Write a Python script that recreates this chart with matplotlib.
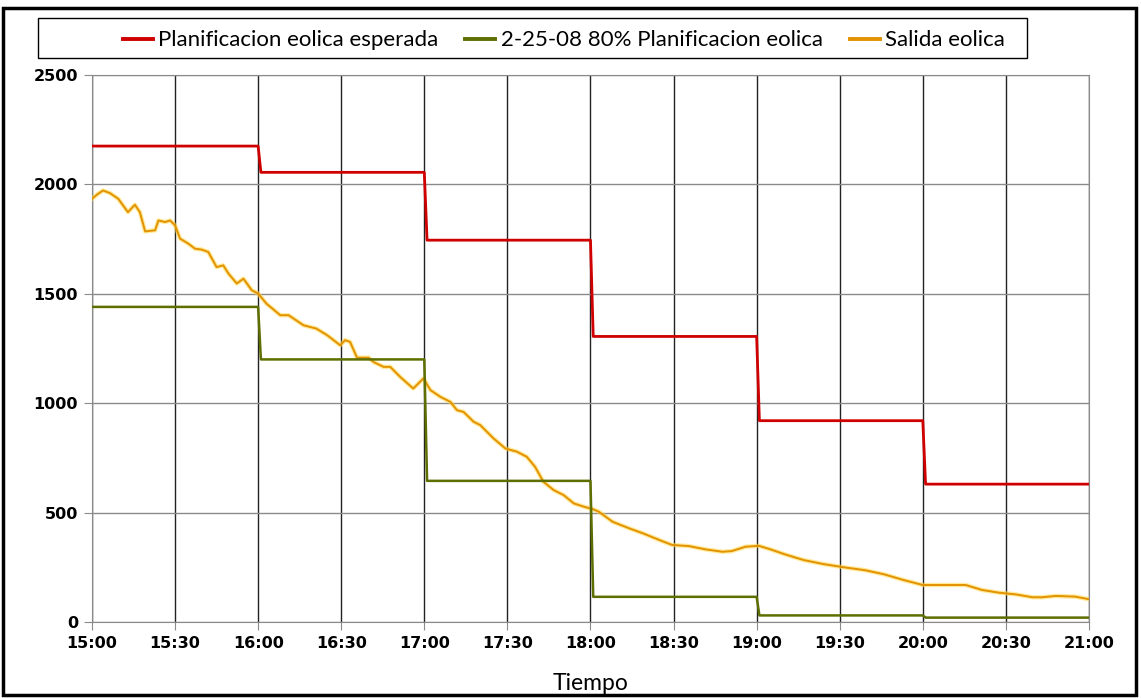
import numpy as np
import matplotlib
matplotlib.use("Agg")
import matplotlib.pyplot as plt
from matplotlib.patches import Rectangle

# --- datos (minutos desde las 15:00, MW) ---
inicio_bloques = [0, 60, 120, 180, 240, 300]
plan_esperada = [2175, 2055, 1745, 1305, 920, 630]
plan_80 = [1440, 1200, 645, 115, 30, 20]

salida_min = [0, 2, 4, 6.5, 9.5, 13, 15.5, 17.3, 19.2, 22.8, 24, 26.4, 28.2, 30,
              31.8, 34.8, 37.2, 39.6, 42, 45, 47.4, 49.3, 52.3, 54.7, 57.7, 60,
              63, 68, 71, 76.4, 81, 85, 89.6, 91.4, 93.2, 95.7, 99.9, 101.7,
              105.3, 107.7, 111.3, 116, 119.7, 122.2, 125.8, 129.4, 131.8, 134.2,
              137.8, 140.2, 145, 149.3, 153.5, 157, 160, 163, 166.7, 170.3, 174,
              177.6, 181, 183, 188, 194, 199, 205, 209.5, 215.5, 221.5, 227.6,
              231, 236, 240.8, 245, 250, 257, 264, 271.5, 279, 286, 293, 300,
              308, 315.5, 321.5, 327.5, 333.6, 339.6, 343, 348, 355, 360]
salida_mw = [1934, 1955, 1972, 1960, 1934, 1873, 1907, 1873, 1785, 1790, 1835,
             1828, 1835, 1813, 1752, 1729, 1706, 1702, 1691, 1622, 1630, 1592,
             1547, 1569, 1516, 1501, 1455, 1402, 1402, 1356, 1341, 1310, 1265,
             1288, 1280, 1208, 1208, 1188, 1166, 1166, 1120, 1067, 1113, 1060,
             1029, 1006, 968, 960, 915, 900, 839, 793, 778, 755, 709, 641, 603,
             580, 542, 527, 515, 504, 458, 428, 405, 374, 352, 347, 332, 321,
             324, 344, 348, 332, 310, 283, 265, 250, 237, 218, 192, 169, 169,
             169, 146, 134, 126, 113, 113, 119, 116, 104]

horas = ["15:00", "15:30", "16:00", "16:30", "17:00", "17:30", "18:00",
         "18:30", "19:00", "19:30", "20:00", "20:30", "21:00"]


def escalones(inicios, valores, fin=360, rampa=1.0):
    xs, ys = [], []
    for i, v in enumerate(valores):
        a = inicios[i] + (rampa if i > 0 else 0)
        b = inicios[i + 1] if i + 1 < len(inicios) else fin
        xs += [a, b]
        ys += [v, v]
    return xs, ys


fig = plt.figure(figsize=(11.41, 6.98), dpi=100)
ax = fig.add_axes([0.0806, 0.1089, 0.8738, 0.7837])

x_r, y_r = escalones(inicio_bloques, plan_esperada)
x_g, y_g = escalones(inicio_bloques, plan_80)

ax.plot(salida_min, salida_mw, color="#ffd84a", lw=3.2, alpha=0.55, zorder=3)
l3, = ax.plot(salida_min, salida_mw, color="#e39200", lw=1.4, zorder=4,
              label="Salida eolica")
l1, = ax.plot(x_r, y_r, color="#d00000", lw=2.0, zorder=5,
              label="Planificacion eolica esperada")
l2, = ax.plot(x_g, y_g, color="#5f6e00", lw=1.8, zorder=5,
              label="2-25-08 80% Planificacion eolica")

ax.set_xlim(0, 360)
ax.set_ylim(0, 2500)
ax.set_xticks(np.arange(0, 361, 30))
ax.set_xticklabels(horas)
ax.set_yticks(np.arange(0, 2501, 500))
ax.grid(axis="x", color="#222222", lw=1.0)
ax.grid(axis="y", color="#8a8a8a", lw=1.0)
ax.set_axisbelow(True)
for s in ax.spines.values():
    s.set_color("#8a8a8a")
ax.tick_params(length=6, color="#8a8a8a", pad=4)
for t in ax.get_xticklabels() + ax.get_yticklabels():
    t.set_fontfamily("DejaVu Sans")
    t.set_fontweight("bold")
    t.set_fontsize(11.5)

ax.set_xlabel("Tiempo", fontsize=16.5, fontfamily="Lato", labelpad=16)

leg = fig.legend(handles=[l1, l2, l3], loc="center left", ncol=3,
                 bbox_to_anchor=(0.098, 0.942), frameon=False,
                 handlelength=1.35, handletextpad=0.25,
                 columnspacing=1.2, borderpad=0.0,
                 prop={"family": "Lato", "size": 16})
for h in leg.get_lines():
    h.set_linewidth(2.8)

# recuadro de la leyenda
fig.patches.append(Rectangle((0.0333, 0.917), 0.8665, 0.057, transform=fig.transFigure,
                             fill=False, edgecolor="black", lw=1.0))
# marco exterior
fig.patches.append(Rectangle((0.003, 0.004), 0.993, 0.984, transform=fig.transFigure,
                             fill=False, edgecolor="black", lw=2.5))

fig.savefig("out.png", dpi=100)
